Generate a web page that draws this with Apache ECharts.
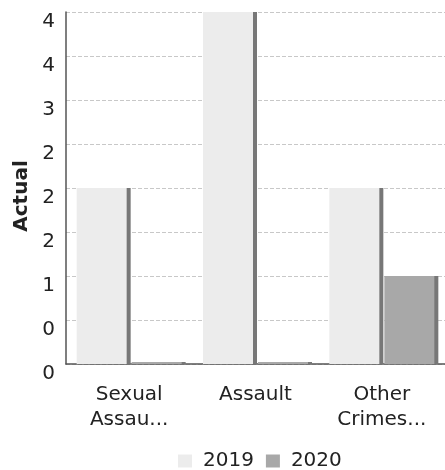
<!DOCTYPE html>
<html><head><meta charset="utf-8">
<script src="https://cdn.jsdelivr.net/npm/echarts@6/dist/echarts.min.js"></script>
<style>html,body{margin:0;padding:0;background:#fff}#c{width:445px;height:470px}</style>
</head><body><div id="c"></div>
<script>
const categories = ['Sexual\nAssau...', 'Assault', 'Other\nCrimes...'];
const seriesNames = ['2019', '2020'];
const values2019 = [2, 4, 2];
const values2020 = [0, 0, 1];
const yTickLabels = ['0', '0', '1', '2', '2', '2', '3', '4', '4'];

const chart = echarts.init(document.getElementById('c'));
const font = '"DejaVu Sans", Verdana, sans-serif';
chart.setOption({
  animation: false,
  textStyle: { fontFamily: font },
  grid: { left: 66, right: -4, top: 12, bottom: 106, containLabel: false },
  legend: {
    left: 173, top: 446, itemWidth: 14, itemHeight: 13, itemGap: 12,
    icon: 'rect',
    textStyle: { fontSize: 20, color: '#222', fontFamily: font, padding: [0, 0, 0, 6] },
    data: seriesNames
  },
  xAxis: {
    type: 'category', data: categories,
    axisLine: { lineStyle: { color: '#555', width: 1.5 } },
    axisTick: { show: false },
    axisLabel: { fontSize: 20, color: '#222', lineHeight: 25, margin: 18, interval: 0, fontFamily: font }
  },
  yAxis: {
    type: 'value', min: 0, max: 4, interval: 0.5,
    name: 'Actual', nameLocation: 'middle', nameGap: 34,
    nameTextStyle: { fontSize: 20, fontWeight: 'bold', color: '#222', fontFamily: font, padding: [0, 0, 0, -16] },
    axisLine: { show: true, lineStyle: { color: '#555', width: 1.5 } },
    axisTick: { show: false },
    splitLine: { lineStyle: { color: '#c8c8c8', type: [4, 2] } },
    axisLabel: {
      fontSize: 20, color: '#222', margin: 11, verticalAlign: 'top', fontFamily: font,
      formatter: v => yTickLabels[Math.round(v / 0.5)]
    }
  },
  series: [
    {
      name: seriesNames[0], type: 'bar', data: values2019, barWidth: 50, barGap: '10%',
      barMinHeight: 2,
      itemStyle: { color: '#ececec', shadowColor: '#777', shadowOffsetX: 4, shadowOffsetY: 0, shadowBlur: 0 }
    },
    {
      name: seriesNames[1], type: 'bar', data: values2020, barWidth: 50,
      barMinHeight: 2,
      itemStyle: { color: '#a8a8a8', shadowColor: '#777', shadowOffsetX: 4, shadowOffsetY: 0, shadowBlur: 0 }
    }
  ]
});
</script></body></html>
